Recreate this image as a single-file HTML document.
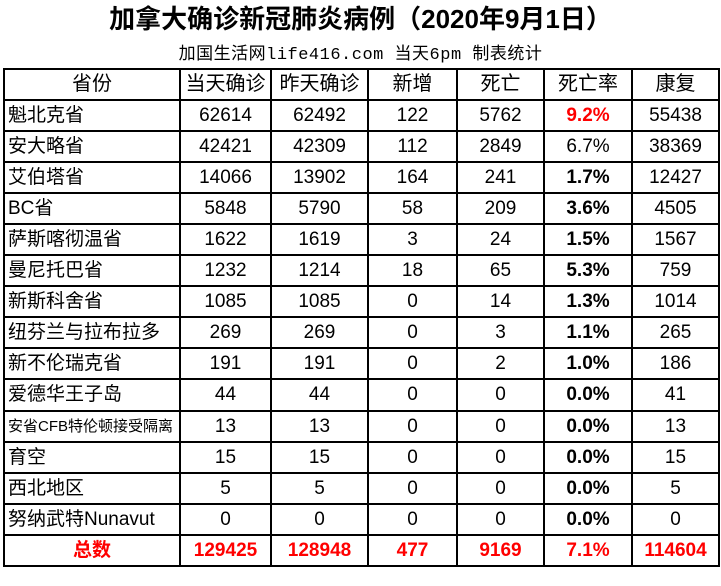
<!DOCTYPE html>
<html><head><meta charset="utf-8"><style>
body{margin:0;width:721px;height:586px;background:#fff;position:relative;font-family:"Liberation Sans","Noto Sans CJK SC",sans-serif;overflow:hidden}
.t{position:absolute;left:0;width:721px;text-align:center;top:-1px;font-size:26px;font-weight:bold;color:#000}
.s{position:absolute;left:0;width:721px;text-align:center;top:39px;font-size:17px;font-family:"Liberation Mono","Noto Sans CJK SC",monospace;letter-spacing:0.5px}
table{position:absolute;left:3px;top:68px;border-collapse:collapse;table-layout:fixed}
td{border:2px solid #000;height:29.05px;padding:0;text-align:center;font-size:19px;line-height:27px;white-space:nowrap;overflow:hidden}
td:first-child{text-align:left;padding-left:3px}
tr:first-child td{text-align:center;font-size:20px;padding-left:0}
.b{font-weight:bold}.r{color:#f00;font-weight:bold}
.tot td{color:#f00;font-weight:bold}
</style></head><body>
<div class="t">加拿大确诊新冠肺炎病例（2020年9月1日）</div>
<div class="s">加国生活网life416.com 当天6pm 制表统计</div>
<table>
<colgroup><col style="width:176px"><col style="width:91px"><col style="width:97px"><col style="width:89px"><col style="width:87px"><col style="width:88px"><col style="width:87px"></colgroup>
<tr><td>省份</td><td>当天确诊</td><td>昨天确诊</td><td>新增</td><td>死亡</td><td>死亡率</td><td>康复</td></tr>
<tr><td>魁北克省</td><td>62614</td><td>62492</td><td>122</td><td>5762</td><td class="r">9.2%</td><td>55438</td></tr>
<tr><td>安大略省</td><td>42421</td><td>42309</td><td>112</td><td>2849</td><td>6.7%</td><td>38369</td></tr>
<tr><td>艾伯塔省</td><td>14066</td><td>13902</td><td>164</td><td>241</td><td class="b">1.7%</td><td>12427</td></tr>
<tr><td>BC省</td><td>5848</td><td>5790</td><td>58</td><td>209</td><td class="b">3.6%</td><td>4505</td></tr>
<tr><td>萨斯喀彻温省</td><td>1622</td><td>1619</td><td>3</td><td>24</td><td class="b">1.5%</td><td>1567</td></tr>
<tr><td>曼尼托巴省</td><td>1232</td><td>1214</td><td>18</td><td>65</td><td class="b">5.3%</td><td>759</td></tr>
<tr><td>新斯科舍省</td><td>1085</td><td>1085</td><td>0</td><td>14</td><td class="b">1.3%</td><td>1014</td></tr>
<tr><td>纽芬兰与拉布拉多</td><td>269</td><td>269</td><td>0</td><td>3</td><td class="b">1.1%</td><td>265</td></tr>
<tr><td>新不伦瑞克省</td><td>191</td><td>191</td><td>0</td><td>2</td><td class="b">1.0%</td><td>186</td></tr>
<tr><td>爱德华王子岛</td><td>44</td><td>44</td><td>0</td><td>0</td><td class="b">0.0%</td><td>41</td></tr>
<tr><td style="font-size:15px">安省CFB特伦顿接受隔离</td><td>13</td><td>13</td><td>0</td><td>0</td><td class="b">0.0%</td><td>13</td></tr>
<tr><td>育空</td><td>15</td><td>15</td><td>0</td><td>0</td><td class="b">0.0%</td><td>15</td></tr>
<tr><td>西北地区</td><td>5</td><td>5</td><td>0</td><td>0</td><td class="b">0.0%</td><td>5</td></tr>
<tr><td>努纳武特Nunavut</td><td>0</td><td>0</td><td>0</td><td>0</td><td class="b">0.0%</td><td>0</td></tr>
<tr class="tot"><td style="text-align:center;padding-left:0">总数</td><td>129425</td><td>128948</td><td>477</td><td>9169</td><td>7.1%</td><td>114604</td></tr>
</table>
</body></html>
